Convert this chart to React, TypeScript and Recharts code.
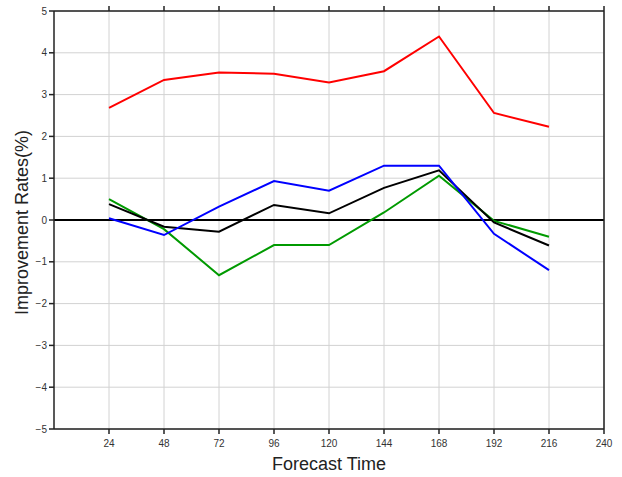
import { LineChart, Line, XAxis, YAxis, CartesianGrid, ReferenceLine } from "recharts";

const hours = [24, 48, 72, 96, 120, 144, 168, 192, 216];
const redSeries = [2.68, 3.35, 3.53, 3.5, 3.29, 3.56, 4.39, 2.56, 2.23];
const blueSeries = [0.04, -0.36, 0.32, 0.93, 0.7, 1.3, 1.3, -0.33, -1.2];
const blackSeries = [0.38, -0.16, -0.28, 0.36, 0.16, 0.77, 1.19, -0.06, -0.61];
const greenSeries = [0.5, -0.22, -1.32, -0.6, -0.6, 0.18, 1.06, -0.02, -0.4];

const xTicks = [24, 48, 72, 96, 120, 144, 168, 192, 216, 240];
const yTicks = [-5, -4, -3, -2, -1, 0, 1, 2, 3, 4, 5];

const data = hours.map((h, i) => ({
    hour: h,
    red: redSeries[i],
    blue: blueSeries[i],
    black: blackSeries[i],
    green: greenSeries[i],
}));

const tickStyle = { fontSize: 10, fill: "#333", fontFamily: "Liberation Sans, Arial, sans-serif" };
const fmtY = (v: number) => (v < 0 ? "\u2212" + Math.abs(v) : String(v));

const App = () => {
    return (
        <div style={{ position: "absolute", left: 0, top: 0, background: "#fff" }}>
            <LineChart
                width={622}
                height={477}
                data={data}
                margin={{ top: 5, right: 12, bottom: 0, left: 24 }}
                style={{ fontFamily: "Liberation Sans, Arial, sans-serif" }}
            >
                <CartesianGrid
                    xAxisId="bottom"
                    yAxisId="left"
                    stroke="#d2d2d2"
                    strokeWidth={1}
                    verticalValues={xTicks}
                    horizontalValues={yTicks}
                />
                <XAxis
                    xAxisId="bottom"
                    dataKey="hour"
                    type="number"
                    domain={[0, 240]}
                    ticks={xTicks}
                    allowDataOverflow
                    height={48}
                    tick={tickStyle}
                    tickSize={5}
                    tickMargin={6}
                    stroke="#222"
                    strokeWidth={1.5}
                    label={{ value: "Forecast Time", position: "insideBottom", offset: 7, fontSize: 18, fill: "#222" }}
                />
                <XAxis
                    xAxisId="top"
                    orientation="top"
                    dataKey="hour"
                    type="number"
                    domain={[0, 240]}
                    ticks={xTicks}
                    height={6}
                    tickSize={5}
                    tickFormatter={() => ""}
                    stroke="#222"
                    strokeWidth={1.5}
                />
                <YAxis
                    yAxisId="left"
                    type="number"
                    domain={[-5, 5]}
                    ticks={yTicks}
                    width={30}
                    tick={tickStyle}
                    tickSize={5}
                    tickFormatter={fmtY}
                    stroke="#222"
                    strokeWidth={1.5}
                    label={{
                        value: "Improvement Rates(%)",
                        angle: -90,
                        position: "insideLeft",
                        offset: -2,
                        dy: 95,
                        fontSize: 18,
                        fill: "#222",
                    }}
                />
                <YAxis
                    yAxisId="right"
                    orientation="right"
                    type="number"
                    domain={[-5, 5]}
                    ticks={yTicks}
                    width={6}
                    tickSize={5}
                    tickFormatter={() => ""}
                    stroke="#222"
                    strokeWidth={1.5}
                />
                <ReferenceLine xAxisId="bottom" yAxisId="left" y={0} stroke="#000" strokeWidth={2} />
                <Line xAxisId="bottom" yAxisId="left" dataKey="red" stroke="#ff0000" strokeWidth={2} dot={false} isAnimationActive={false} />
                <Line xAxisId="bottom" yAxisId="left" dataKey="green" stroke="#009a00" strokeWidth={2} dot={false} isAnimationActive={false} />
                <Line xAxisId="bottom" yAxisId="left" dataKey="black" stroke="#000000" strokeWidth={2} dot={false} isAnimationActive={false} />
                <Line xAxisId="bottom" yAxisId="left" dataKey="blue" stroke="#0000ff" strokeWidth={2} dot={false} isAnimationActive={false} />
            </LineChart>
        </div>
    );
};

export default App;
